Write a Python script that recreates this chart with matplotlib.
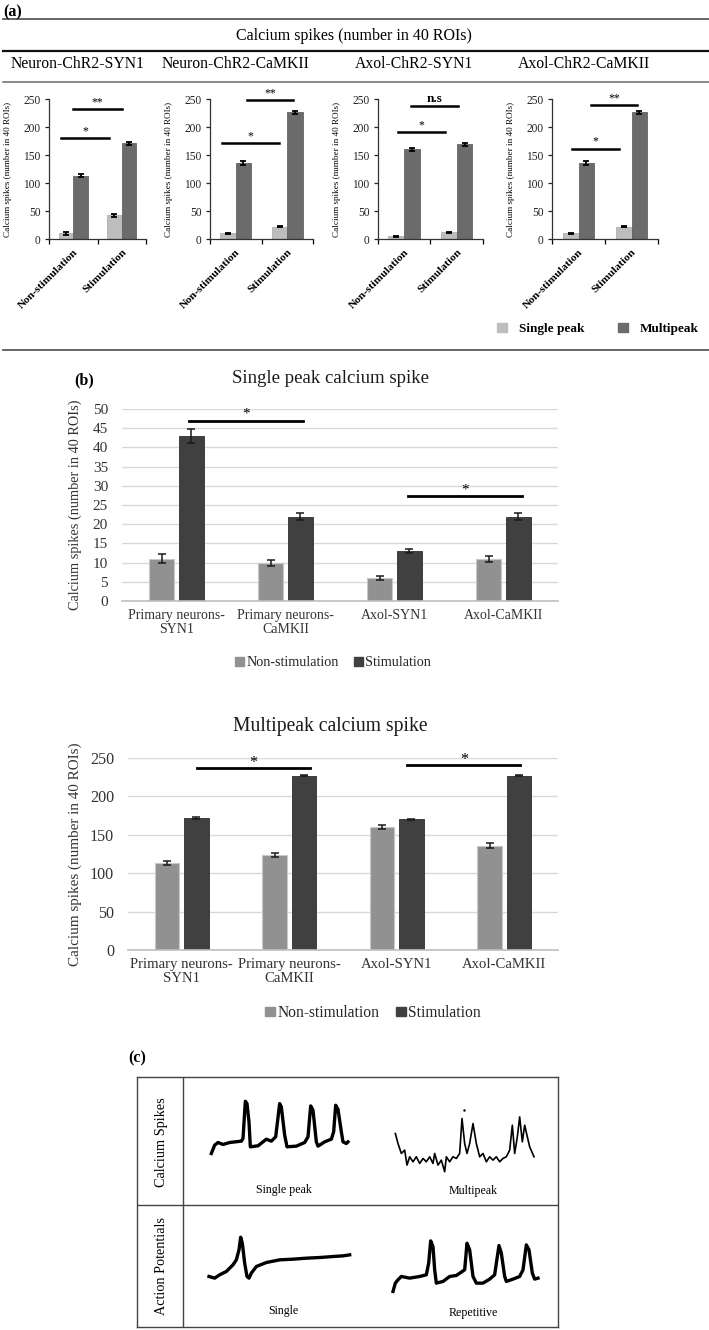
import matplotlib
matplotlib.use('Agg')
import matplotlib.pyplot as plt
from matplotlib.patches import Rectangle
import numpy as np

plt.rcParams['font.family'] = ['Liberation Serif', 'DejaVu Serif']

# ---------------- data ----------------
a_header = 'Calcium spikes (number in 40 ROIs)'
a_titles = ['Neuron-ChR2-SYN1', 'Neuron-ChR2-CaMKII', 'Axol-ChR2-SYN1', 'Axol-ChR2-CaMKII']
a_conditions = ['Non-stimulation', 'Stimulation']
a_single = [[10, 42], [10, 22], [5, 12], [10, 22]]
a_single_err = [[2, 3], [1, 1], [1, 1], [1, 1]]
a_multi = [[113, 171], [136, 226], [160, 169], [136, 226]]
a_multi_err = [[3, 3], [3, 2], [3, 3], [3, 2]]
a_sig_text = [['*', '**'], ['*', '**'], ['*', 'n.s'], ['*', '**']]
a_yticks = [0, 50, 100, 150, 200, 250]
a_legend = ['Single peak', 'Multipeak']

b_groups = ['Primary neurons-\nSYN1', 'Primary neurons-\nCaMKII', 'Axol-SYN1', 'Axol-CaMKII']
b_series = ['Non-stimulation', 'Stimulation']
b1_title = 'Single peak calcium spike'
b1_nonstim = [11, 10, 6, 11]
b1_nonstim_err = [1.2, 0.8, 0.6, 0.8]
b1_stim = [43, 22, 13, 22]
b1_stim_err = [1.8, 0.8, 0.6, 0.8]
b1_yticks = list(range(0, 51, 5))
b2_title = 'Multipeak calcium spike'
b2_nonstim = [113, 124, 160, 136]
b2_nonstim_err = [2.5, 2.5, 2.5, 3]
b2_stim = [172, 227, 170, 227]
b2_stim_err = [1, 1, 1, 1]
b2_yticks = list(range(0, 251, 50))
b_ylabel = 'Calcium spikes (number in 40 ROIs)'

c_rows = ['Calcium Spikes', 'Action Potentials']
c_labels = ['Single peak', 'Multipeak', 'Single', 'Repetitive']
ca_single_t = [245, 255, 265, 280, 300, 335, 340, 347, 352, 358, 362, 385, 410, 425, 438, 450, 455, 465, 472,
               500, 525, 535, 543, 550, 560, 565, 585, 605, 612, 618, 625, 635, 640, 650, 655]
ca_single_v = [430, 405, 397, 403, 397, 393, 385, 273, 280, 335, 410, 407, 387, 393, 380, 280, 290, 375, 410,
               408, 397, 380, 287, 300, 395, 408, 395, 387, 365, 285, 297, 365, 395, 400, 395]
ca_multi_t = [797, 805, 815, 825, 832, 840, 850, 860, 870, 880, 890, 900, 910, 915, 925, 935, 945, 950, 960,
              970, 980, 990, 997, 1005, 1012, 1020, 1030, 1040, 1050, 1060, 1070, 1080, 1090, 1100, 1110,
              1120, 1130, 1140, 1148, 1155, 1163, 1170, 1178, 1185, 1193, 1200, 1213]
ca_multi_v = [370, 400, 430, 420, 465, 440, 455, 440, 460, 445, 455, 440, 460, 430, 465, 450, 485, 440, 455,
              440, 445, 430, 325, 400, 430, 400, 340, 400, 440, 430, 455, 440, 450, 440, 455,
              445, 440, 420, 345, 430, 380, 320, 395, 345, 380, 410, 440]
ap_single_t = [238, 255, 270, 290, 310, 320, 328, 333, 338, 345, 352, 358, 365, 380, 410, 450, 490, 530, 570,
               610, 640, 660]
ap_single_v = [800, 805, 795, 785, 765, 750, 720, 682, 700, 760, 800, 805, 790, 770, 758, 750, 748, 745, 743,
               740, 738, 735]
ap_rep_t = [790, 797, 805, 815, 840, 870, 890, 897, 903, 910, 915, 920, 940, 960, 980, 1005, 1012, 1020, 1030,
            1040, 1060, 1080, 1095, 1100, 1108, 1115, 1125, 1130, 1150, 1170, 1180, 1190, 1198, 1208, 1215, 1225]
ap_rep_v = [845, 820, 810, 800, 805, 800, 795, 760, 693, 710, 780, 820, 815, 800, 797, 780, 700, 720, 800,
            820, 820, 808, 795, 760, 707, 730, 800, 815, 808, 800, 780, 705, 720, 790, 808, 805]

# ---------------- figure ----------------
W, H = 709, 1330
fig = plt.figure(figsize=(W / 100, H / 100), dpi=100)


def px_axes(x0, y0, x1, y1, **kw):
    return fig.add_axes([x0 / W, 1 - y1 / H, (x1 - x0) / W, (y1 - y0) / H], **kw)


ov = fig.add_axes([0, 0, 1, 1], zorder=-5)
ov.set_xlim(0, W)
ov.set_ylim(H, 0)
ov.axis('off')

# ---- panel a frame ----
ov.plot([3, W], [19, 19], color='#5a5a5a', lw=1.3)
ov.plot([3, W], [50.5, 50.5], color='#111111', lw=1.6)
ov.plot([3, W], [81.5, 81.5], color='#6a6a6a', lw=1.1)
ov.plot([3, W], [350, 350], color='#5a5a5a', lw=1.3)
ov.text(3, 12, '(a)', fontsize=11.5, fontweight='bold', va='center', ha='left')
ov.text(354, 36, a_header, fontsize=11.5, ha='center', va='center')
for cx, t in zip([78, 236, 414, 584], a_titles):
    ov.text(cx, 64, t, fontsize=11.3, ha='center', va='center')

a_light = '#bdbdbd'
a_dark = '#6b6b6b'
a_boxes = [(49, 146), (210, 313), (378, 483), (552, 658)]
a_sig_lines = [[(-0.25, 0.74, 180, 188), (-0.005, 1.0, 232, 240)],
               [(-0.27, 0.84, 171, 179), (0.22, 1.11, 248, 256)],
               [(-0.12, 0.78, 191, 198), (0.13, 1.02, 237, 246)],
               [(-0.12, 0.76, 161, 169), (0.24, 1.1, 239, 247)]]
x = np.arange(len(a_conditions))
for i, (x0, x1) in enumerate(a_boxes):
    ax = px_axes(x0, 99, x1, 239)
    ax.bar(x - 0.15, a_single[i], 0.3, color=a_light, edgecolor='#a5a5a5', lw=0.5, zorder=2)
    ax.bar(x + 0.15, a_multi[i], 0.3, color=a_dark, edgecolor='#555555', lw=0.5, zorder=2)
    ax.errorbar(x - 0.15, a_single[i], yerr=a_single_err[i], fmt='none', ecolor='black',
                elinewidth=1.3, capsize=2.5, capthick=1.3, zorder=3)
    ax.errorbar(x + 0.15, a_multi[i], yerr=a_multi_err[i], fmt='none', ecolor='black',
                elinewidth=1.3, capsize=2.5, capthick=1.3, zorder=3)
    ax.set_xlim(-0.5, 1.5)
    ax.set_ylim(0, 250)
    ax.set_yticks(a_yticks)
    ax.tick_params(axis='y', labelsize=8.3, length=3, width=0.9, pad=3, colors='#222222')
    ax.set_xticks(x)
    ax.set_xticklabels(a_conditions, rotation=45, ha='right', va='top', rotation_mode='anchor',
                       fontsize=8.2, fontweight='bold')
    ax.tick_params(axis='x', length=0, pad=6)
    ax.set_xticks([-0.5, 0.5, 1.5], minor=True)
    ax.tick_params(axis='x', which='minor', length=3.5, width=0.9, direction='out')
    for s in ['top', 'right']:
        ax.spines[s].set_visible(False)
    for s in ['left', 'bottom']:
        ax.spines[s].set_color('#333333')
        ax.spines[s].set_linewidth(0.9)
    ax.patch.set_alpha(0)
    ax.set_ylabel(a_header, fontsize=6.6)
    ax.yaxis.set_label_coords(-37 / (x1 - x0), 0.5)
    for (sx0, sx1, sy, ty), lab in zip(a_sig_lines[i], a_sig_text[i]):
        ax.plot([sx0, sx1], [sy, sy], color='black', lw=1.8, clip_on=False, zorder=4)
        if lab == 'n.s':
            ax.text((sx0 + sx1) / 2, sy + 1.5, lab, ha='center', va='bottom', fontsize=9.5,
                    fontweight='bold', clip_on=False)
        else:
            ax.text((sx0 + sx1) / 2, sy + 2, lab, ha='center', va='bottom', fontsize=8.5,
                    clip_on=False)

a_handles = [Rectangle((0, 0), 1, 1, color=a_light), Rectangle((0, 0), 1, 1, color=a_dark)]
fig.legend(a_handles, a_legend, loc='center', bbox_to_anchor=(598 / W, 1 - 329 / H), ncol=2,
           frameon=False, prop={'weight': 'bold', 'size': 9.5}, handlelength=0.75, handleheight=0.75,
           handletextpad=0.9, columnspacing=2.6)

# ---- panel b ----
b_light = '#919191'
b_dark = '#404040'
ov.text(84, 380, '(b)', fontsize=11.5, fontweight='bold', ha='center', va='center')


def b_chart(box, title, title_y, ns, ns_err, st, st_err, yticks, ymax, sig, legend_xy, fs, lfs):
    x0, y0, x1, y1 = box
    ax = px_axes(x0, y0, x1, y1)
    g = np.arange(len(b_groups))
    ax.bar(g - 0.137, ns, 0.232, color=b_light, edgecolor='#c8c8c8', lw=0.8, zorder=2)
    ax.bar(g + 0.137, st, 0.232, color=b_dark, edgecolor='#2e2e2e', lw=0.6, zorder=2)
    ax.errorbar(g - 0.137, ns, yerr=ns_err, fmt='none', ecolor='#1a1a1a', elinewidth=1.1,
                capsize=3, capthick=1.1, zorder=3)
    ax.errorbar(g + 0.137, st, yerr=st_err, fmt='none', ecolor='#1a1a1a', elinewidth=1.1,
                capsize=3, capthick=1.1, zorder=3)
    ax.set_xlim(-0.5, len(b_groups) - 0.5)
    ax.set_ylim(0, ymax)
    ax.set_yticks(yticks)
    ax.yaxis.grid(True, color='#d9d9d9', lw=1.0, zorder=0)
    ax.set_axisbelow(True)
    for s in ['top', 'right', 'left']:
        ax.spines[s].set_visible(False)
    ax.spines['bottom'].set_color('#bfbfbf')
    ax.spines['bottom'].set_linewidth(1.2)
    ax.tick_params(axis='y', length=0, pad=10, labelsize=fs + 1, colors='#333333')
    ax.set_xticks(g)
    ax.set_xticklabels(b_groups, fontsize=fs, linespacing=1.1, color='#333333')
    ax.tick_params(axis='x', length=0, pad=6)
    ax.set_ylabel(b_ylabel, fontsize=fs + 0.3, color='#333333')
    ax.yaxis.set_label_coords(-(x0 - 82) / (x1 - x0), 0.5)
    fig.text(330 / W, 1 - title_y / H, title, fontsize=fs + 3.5, ha='center', va='center', color='#1a1a1a')
    for (sx0, sx1, sy, ty) in sig:
        ax.plot([sx0, sx1], [sy, sy], color='black', lw=2.0, clip_on=False, zorder=4)
        ax.text((sx0 + sx1) / 2, ty, '*', fontsize=fs + 1, ha='center', va='center', clip_on=False)
    handles = [Rectangle((0, 0), 1, 1, color=b_light), Rectangle((0, 0), 1, 1, color=b_dark)]
    fig.legend(handles, b_series, loc='center', bbox_to_anchor=(legend_xy[0] / W, 1 - legend_xy[1] / H),
               ncol=2, frameon=False, fontsize=lfs, handlelength=0.6, handleheight=0.6,
               handletextpad=0.15, columnspacing=1.1, labelcolor='#262626')
    return ax


b_chart((122, 409, 558, 601), b1_title, 379, b1_nonstim, b1_nonstim_err, b1_stim, b1_stim_err,
        b1_yticks, 50, [(0.115, 1.16, 46.9, 48.6), (2.12, 3.17, 27.3, 28.8)], (333, 663), 10, 10.2)
b_chart((128, 758, 558, 950), b2_title, 727, b2_nonstim, b2_nonstim_err, b2_stim, b2_stim_err,
        b2_yticks, 250, [(0.14, 1.19, 237, 244), (2.1, 3.15, 241, 248)], (373, 1013), 10.6, 11.2)

# ---- panel c ----
ov.text(137, 1058, '(c)', fontsize=11.5, fontweight='bold', ha='center', va='center')
axc = px_axes(137, 1077, 558, 1327)
axc.set_xlim(22, 1285)
axc.set_ylim(952, 200)
axc.set_xticks([])
axc.set_yticks([])
for s in axc.spines.values():
    s.set_color('#444444')
    s.set_linewidth(1.0)
axc.plot([160, 160], [200, 952], color='#444444', lw=1.0)
axc.plot([22, 1285], [585, 585], color='#444444', lw=1.0)
axc.text(95, 395, c_rows[0], rotation=90, ha='center', va='center', fontsize=10.3)
axc.text(95, 768, c_rows[1], rotation=90, ha='center', va='center', fontsize=10.3)
axc.plot(ca_single_t, ca_single_v, color='black', lw=2.4, solid_joinstyle='round')
axc.plot(ca_multi_t, ca_multi_v, color='black', lw=1.2, solid_joinstyle='round')
axc.plot([1003], [300], marker='.', color='black', ms=1.5)
axc.plot(ap_single_t, ap_single_v, color='black', lw=2.4, solid_joinstyle='round')
axc.plot(ap_rep_t, ap_rep_v, color='black', lw=2.4, solid_joinstyle='round')
for (tx, ty), lab in zip([(462, 540), (1030, 543), (462, 905), (1030, 910)], c_labels):
    axc.text(tx, ty, lab, ha='center', va='center', fontsize=8.6)

fig.savefig('out.png', dpi=100)
